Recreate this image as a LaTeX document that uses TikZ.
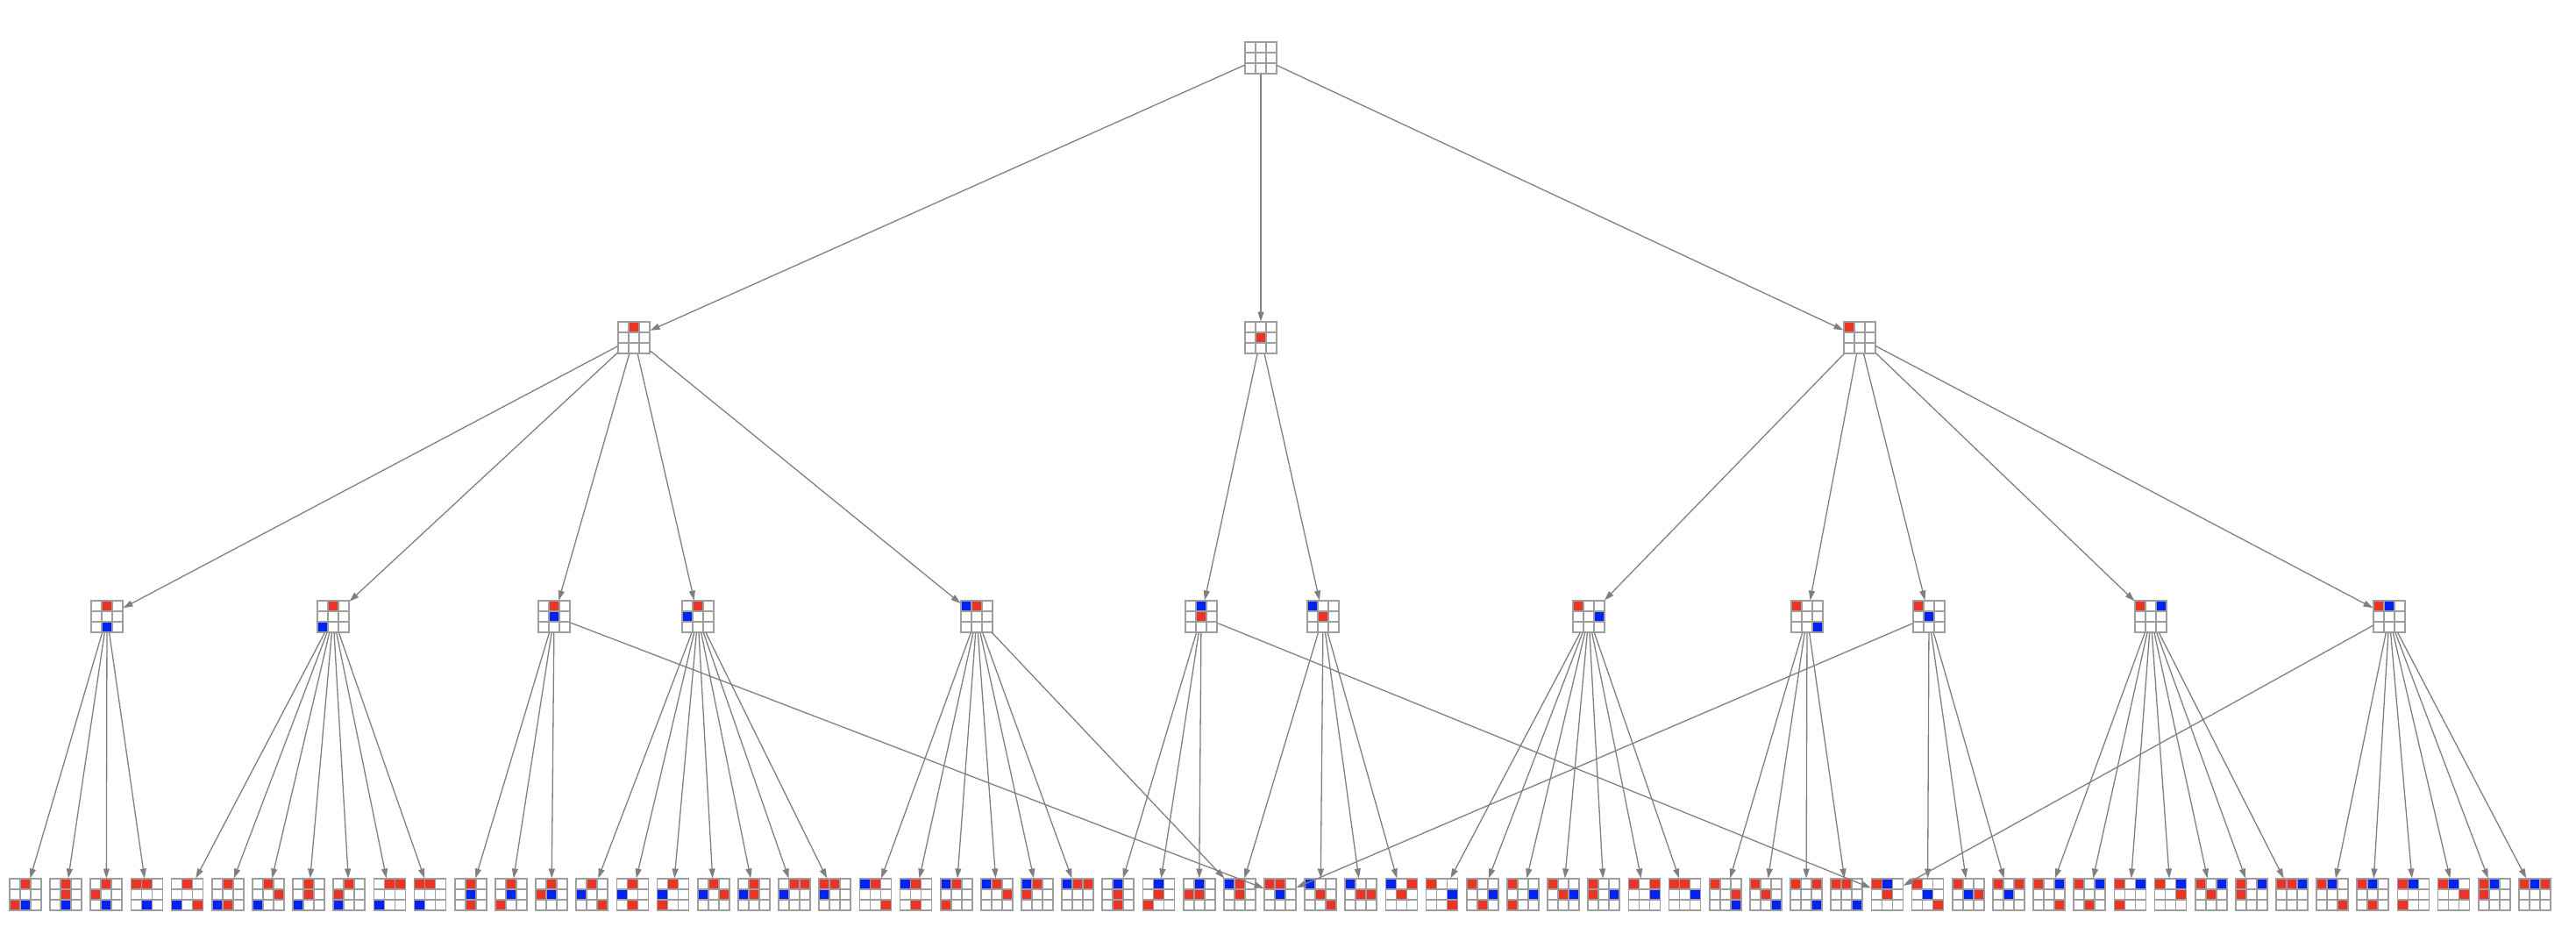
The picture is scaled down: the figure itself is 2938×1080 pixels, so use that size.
\documentclass[tikz,border=0pt]{standalone}
\usetikzlibrary{arrows.meta}
\definecolor{xr}{RGB}{234,52,38}
\definecolor{xb}{RGB}{0,34,245}
\definecolor{gridc}{RGB}{158,158,158}
\definecolor{edgec}{RGB}{128,128,128}
\tikzset{
  bnode/.style={rectangle,minimum size=37pt,inner sep=0pt,outer sep=0pt},
  gridl/.style={draw=gridc,line width=1.7pt},
  edge/.style={draw=edgec,line width=1.3pt,-{Triangle[length=11pt,width=7pt]}}
}
\newcommand{\bdgrid}[2]{%
  \draw[gridl] ({#1-18},{#2-18}) rectangle ({#1+18},{#2+18})
    ({#1-6},{#2-18}) -- ({#1-6},{#2+18}) ({#1+6},{#2-18}) -- ({#1+6},{#2+18})
    ({#1-18},{#2-6}) -- ({#1+18},{#2-6}) ({#1-18},{#2+6}) -- ({#1+18},{#2+6});
}
\newcommand{\bd}[4]{%
  \node[bnode] (#1) at ({#2},{#3}) {};
  \foreach \rr/\cc/\cl in {#4} {\fill[\cl] ({#2-18+\cc*12},{#3-18+\rr*12}) rectangle ++(12,12);}
  \bdgrid{#2}{#3}
}
\begin{document}
\begin{tikzpicture}[x=1pt,y=-1pt]
\useasboundingbox (0,0) rectangle (2938,1080);
% root
\node[bnode] (root) at (1438,66) {};
\bdgrid{1438}{66}
% level 1
\bd{A}{723}{385}{0/1/xr}
\bd{B}{1438}{385}{1/1/xr}
\bd{C}{2121}{385}{0/0/xr}
% level 2
\bd{A1}{122}{703}{0/1/xr,2/1/xb}
\bd{A2}{380}{703}{0/1/xr,2/0/xb}
\bd{A3}{632}{703}{0/1/xr,1/1/xb}
\bd{A4}{796}{703}{0/1/xr,1/0/xb}
\bd{A5}{1114}{703}{0/0/xb,0/1/xr}
\bd{B1}{1370}{703}{0/1/xb,1/1/xr}
\bd{B2}{1509}{703}{0/0/xb,1/1/xr}
\bd{C1}{1812}{703}{0/0/xr,1/2/xb}
\bd{C2}{2061}{703}{0/0/xr,2/2/xb}
\bd{C3}{2200}{703}{0/0/xr,1/1/xb}
\bd{C4}{2453}{703}{0/0/xr,0/2/xb}
\bd{C5}{2725}{703}{0/0/xr,0/1/xb}
% level 3
\bd{n1}{29+0*46.16}{1020}{0/1/xr,2/0/xr,2/1/xb}
\bd{n2}{29+1*46.16}{1020}{0/1/xr,1/1/xr,2/1/xb}
\bd{n3}{29+2*46.16}{1020}{0/1/xr,1/0/xr,2/1/xb}
\bd{n4}{29+3*46.16}{1020}{0/0/xr,0/1/xr,2/1/xb}
\bd{n5}{29+4*46.16}{1020}{0/1/xr,2/0/xb,2/2/xr}
\bd{n6}{29+5*46.16}{1020}{0/1/xr,2/0/xb,2/1/xr}
\bd{n7}{29+6*46.16}{1020}{0/1/xr,1/2/xr,2/0/xb}
\bd{n8}{29+7*46.16}{1020}{0/1/xr,1/1/xr,2/0/xb}
\bd{n9}{29+8*46.16}{1020}{0/1/xr,1/0/xr,2/0/xb}
\bd{n10}{29+9*46.16}{1020}{0/1/xr,0/2/xr,2/0/xb}
\bd{n11}{29+10*46.16}{1020}{0/0/xr,0/1/xr,2/0/xb}
\bd{n12}{29+11*46.16}{1020}{0/1/xr,1/1/xb,2/1/xr}
\bd{n13}{29+12*46.16}{1020}{0/1/xr,1/1/xb,2/0/xr}
\bd{n14}{29+13*46.16}{1020}{0/1/xr,1/0/xr,1/1/xb}
\bd{n15}{29+14*46.16}{1020}{0/1/xr,1/0/xb,2/2/xr}
\bd{n16}{29+15*46.16}{1020}{0/1/xr,1/0/xb,2/1/xr}
\bd{n17}{29+16*46.16}{1020}{0/1/xr,1/0/xb,2/0/xr}
\bd{n18}{29+17*46.16}{1020}{0/1/xr,1/0/xb,1/2/xr}
\bd{n19}{29+18*46.16}{1020}{0/1/xr,1/0/xb,1/1/xr}
\bd{n20}{29+19*46.16}{1020}{0/1/xr,0/2/xr,1/0/xb}
\bd{n21}{29+20*46.16}{1020}{0/0/xr,0/1/xr,1/0/xb}
\bd{n22}{29+21*46.16}{1020}{0/0/xb,0/1/xr,2/2/xr}
\bd{n23}{29+22*46.16}{1020}{0/0/xb,0/1/xr,2/1/xr}
\bd{n24}{29+23*46.16}{1020}{0/0/xb,0/1/xr,2/0/xr}
\bd{n25}{29+24*46.16}{1020}{0/0/xb,0/1/xr,1/2/xr}
\bd{n26}{29+25*46.16}{1020}{0/0/xb,0/1/xr,1/0/xr}
\bd{n27}{29+26*46.16}{1020}{0/0/xb,0/1/xr,0/2/xr}
\bd{n28}{29+27*46.16}{1020}{0/1/xb,1/1/xr,2/1/xr}
\bd{n29}{29+28*46.16}{1020}{0/1/xb,1/1/xr,2/0/xr}
\bd{n30}{29+29*46.16}{1020}{0/1/xb,1/0/xr,1/1/xr}
\bd{n31}{29+30*46.16}{1020}{0/0/xb,0/1/xr,1/1/xr}
\bd{n32}{29+31*46.16}{1020}{0/0/xr,0/1/xr,1/1/xb}
\bd{n33}{29+32*46.16}{1020}{0/0/xb,1/1/xr,2/2/xr}
\bd{n34}{29+33*46.16}{1020}{0/0/xb,1/1/xr,1/2/xr}
\bd{n35}{29+34*46.16}{1020}{0/0/xb,0/2/xr,1/1/xr}
\bd{n36}{29+35*46.16}{1020}{0/0/xr,1/2/xb,2/2/xr}
\bd{n37}{29+36*46.16}{1020}{0/0/xr,1/2/xb,2/1/xr}
\bd{n38}{29+37*46.16}{1020}{0/0/xr,1/2/xb,2/0/xr}
\bd{n39}{29+38*46.16}{1020}{0/0/xr,1/1/xr,1/2/xb}
\bd{n40}{29+39*46.16}{1020}{0/0/xr,1/0/xr,1/2/xb}
\bd{n41}{29+40*46.16}{1020}{0/0/xr,0/2/xr,1/2/xb}
\bd{n42}{29+41*46.16}{1020}{0/0/xr,0/1/xr,1/2/xb}
\bd{n43}{29+42*46.16}{1020}{0/0/xr,1/2/xr,2/2/xb}
\bd{n44}{29+43*46.16}{1020}{0/0/xr,1/1/xr,2/2/xb}
\bd{n45}{29+44*46.16}{1020}{0/0/xr,0/2/xr,2/2/xb}
\bd{n46}{29+45*46.16}{1020}{0/0/xr,0/1/xr,2/2/xb}
\bd{n47}{29+46*46.16}{1020}{0/0/xr,0/1/xb,1/1/xr}
\bd{n48}{29+47*46.16}{1020}{0/0/xr,1/1/xb,2/2/xr}
\bd{n49}{29+48*46.16}{1020}{0/0/xr,1/1/xb,1/2/xr}
\bd{n50}{29+49*46.16}{1020}{0/0/xr,0/2/xr,1/1/xb}
\bd{n51}{29+50*46.16}{1020}{0/0/xr,0/2/xb,2/2/xr}
\bd{n52}{29+51*46.16}{1020}{0/0/xr,0/2/xb,2/1/xr}
\bd{n53}{29+52*46.16}{1020}{0/0/xr,0/2/xb,2/0/xr}
\bd{n54}{29+53*46.16}{1020}{0/0/xr,0/2/xb,1/2/xr}
\bd{n55}{29+54*46.16}{1020}{0/0/xr,0/2/xb,1/1/xr}
\bd{n56}{29+55*46.16}{1020}{0/0/xr,0/2/xb,1/0/xr}
\bd{n57}{29+56*46.16}{1020}{0/0/xr,0/1/xr,0/2/xb}
\bd{n58}{29+57*46.16}{1020}{0/0/xr,0/1/xb,2/2/xr}
\bd{n59}{29+58*46.16}{1020}{0/0/xr,0/1/xb,2/1/xr}
\bd{n60}{29+59*46.16}{1020}{0/0/xr,0/1/xb,2/0/xr}
\bd{n61}{29+60*46.16}{1020}{0/0/xr,0/1/xb,1/2/xr}
\bd{n62}{29+61*46.16}{1020}{0/0/xr,0/1/xb,1/0/xr}
\bd{n63}{29+62*46.16}{1020}{0/0/xr,0/1/xb,0/2/xr}
% edges
\foreach \p/\c in {root/A,root/B,root/C,
  A/A1,A/A2,A/A3,A/A4,A/A5,B/B1,B/B2,C/C1,C/C2,C/C3,C/C4,C/C5,
  A1/n1,A1/n2,A1/n3,A1/n4,
  A2/n5,A2/n6,A2/n7,A2/n8,A2/n9,A2/n10,A2/n11,
  A3/n12,A3/n13,A3/n14,A3/n32,
  A4/n15,A4/n16,A4/n17,A4/n18,A4/n19,A4/n20,A4/n21,
  A5/n22,A5/n23,A5/n24,A5/n25,A5/n26,A5/n27,A5/n31,
  B1/n28,B1/n29,B1/n30,B1/n47,
  B2/n31,B2/n33,B2/n34,B2/n35,
  C1/n36,C1/n37,C1/n38,C1/n39,C1/n40,C1/n41,C1/n42,
  C2/n43,C2/n44,C2/n45,C2/n46,
  C3/n32,C3/n48,C3/n49,C3/n50,
  C4/n51,C4/n52,C4/n53,C4/n54,C4/n55,C4/n56,C4/n57,
  C5/n47,C5/n58,C5/n59,C5/n60,C5/n61,C5/n62,C5/n63}
  {\draw[edge] (\p) -- (\c);}
\end{tikzpicture}
\end{document}
